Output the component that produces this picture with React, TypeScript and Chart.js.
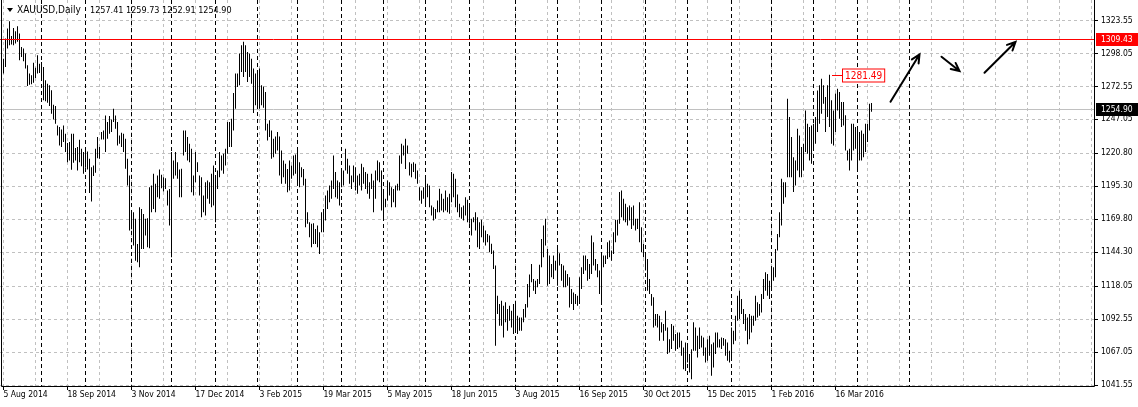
import React, { useEffect, useRef } from "react";
import { Chart, registerables } from "chart.js";

Chart.register(...registerables);

// ---------------- data ----------------
const symbolTitle = "XAUUSD,Daily";
const lastOHLC = [1257.41, 1259.73, 1252.91, 1254.9];

const barHigh = [
  1294.0, 1309.6, 1317.3, 1323.0, 1311.6, 1317.8, 1315.2, 1319.1, 1313.4, 1303.1,
  1301.8, 1297.9, 1288.9, 1282.4, 1281.1, 1290.9, 1287.0, 1296.6, 1290.1, 1291.4,
  1287.6, 1277.2, 1274.6, 1273.3, 1269.5, 1258.3, 1257.3, 1242.3, 1241.0, 1239.2,
  1242.3, 1235.8, 1228.6, 1229.4, 1235.8, 1235.8, 1224.7, 1225.5, 1231.2, 1224.2,
  1221.6, 1222.9, 1222.1, 1216.4, 1209.9, 1211.2, 1224.2, 1233.2, 1225.5, 1237.1,
  1238.4, 1250.0, 1244.9, 1249.5, 1246.9, 1255.2, 1250.0, 1244.9, 1234.5, 1236.6,
  1235.8, 1231.9, 1216.4, 1203.5, 1175.0, 1175.0, 1169.9, 1150.4, 1178.9, 1177.6,
  1173.7, 1169.9, 1170.4, 1194.4, 1195.7, 1204.8, 1197.0, 1203.5, 1208.1, 1204.0,
  1202.2, 1201.4, 1191.9, 1193.1, 1221.6, 1215.1, 1221.6, 1213.8, 1208.1, 1208.7,
  1238.4, 1238.4, 1233.2, 1228.1, 1224.2, 1203.5, 1221.6, 1213.8, 1203.5, 1202.2,
  1188.0, 1198.3, 1199.6, 1198.3, 1204.8, 1211.2, 1201.4, 1207.4, 1221.6, 1219.0,
  1220.3, 1224.2, 1244.9, 1244.9, 1247.5, 1267.4, 1282.4, 1282.4, 1297.9, 1304.4,
  1307.0, 1304.4, 1299.2, 1297.9, 1294.0, 1286.3, 1282.4, 1284.9, 1286.3, 1273.3,
  1272.5, 1268.1, 1243.6, 1246.2, 1238.4, 1231.9, 1233.7, 1237.1, 1233.7, 1222.9,
  1215.1, 1212.5, 1208.6, 1215.1, 1211.2, 1219.0, 1219.8, 1225.5, 1213.8, 1209.9,
  1208.6, 1200.9, 1175.0, 1167.3, 1166.0, 1166.5, 1162.1, 1164.7, 1159.5, 1175.0,
  1177.6, 1188.0, 1191.8, 1195.7, 1199.6, 1219.0, 1206.1, 1199.6, 1198.3, 1207.4,
  1207.4, 1224.2, 1216.4, 1211.2, 1203.5, 1211.2, 1209.9, 1203.5, 1204.8, 1212.5,
  1209.9, 1206.1, 1204.8, 1198.3, 1204.8, 1199.6, 1207.4, 1215.1, 1213.8, 1207.4,
  1193.1, 1185.4, 1199.6, 1198.3, 1194.4, 1193.1, 1195.7, 1197.0, 1219.0, 1228.1,
  1226.8, 1231.9, 1226.8, 1213.8, 1212.5, 1213.8, 1212.5, 1207.4, 1194.4, 1191.8,
  1194.4, 1203.5, 1197.0, 1195.7, 1180.2, 1178.9, 1177.6, 1184.1, 1193.2, 1189.3,
  1185.4, 1191.9, 1186.7, 1189.3, 1206.1, 1204.8, 1200.9, 1188.8, 1181.5, 1178.9,
  1180.2, 1186.7, 1184.6, 1180.2, 1169.9, 1171.2, 1175.0, 1171.2, 1167.3, 1169.1,
  1164.7, 1160.8, 1158.2, 1156.9, 1150.5, 1145.3, 1133.7, 1110.4, 1103.9, 1106.5,
  1102.6, 1105.2, 1100.0, 1102.6, 1098.7, 1103.9, 1103.9, 1094.8, 1093.5, 1093.5,
  1100.0, 1103.9, 1119.4, 1126.7, 1135.0, 1123.3, 1122.0, 1123.3, 1134.4, 1154.3,
  1164.7, 1169.9, 1146.6, 1141.4, 1135.0, 1141.4, 1137.5, 1147.9, 1143.2, 1135.0,
  1133.7, 1129.8, 1127.2, 1124.6, 1115.5, 1112.9, 1111.7, 1110.4, 1124.6, 1132.4,
  1141.4, 1141.4, 1138.8, 1135.0, 1156.9, 1151.8, 1138.8, 1135.0, 1129.8, 1141.4,
  1141.4, 1141.4, 1151.8, 1153.1, 1145.3, 1159.5, 1169.1, 1169.1, 1190.6, 1191.9,
  1185.4, 1181.5, 1178.9, 1180.2, 1178.9, 1180.2, 1169.9, 1169.9, 1182.8, 1163.4,
  1150.5, 1144.0, 1138.8, 1123.3, 1111.7, 1109.1, 1096.1, 1096.1, 1094.8, 1089.7,
  1088.4, 1098.7, 1085.8, 1076.7, 1088.4, 1087.1, 1080.6, 1081.9, 1081.9, 1075.4,
  1070.3, 1074.1, 1071.5, 1065.1, 1068.9, 1089.7, 1085.8, 1079.3, 1085.8, 1079.3,
  1078.0, 1070.3, 1076.7, 1079.3, 1072.8, 1074.1, 1081.9, 1081.9, 1076.7, 1078.0,
  1077.5, 1076.7, 1074.1, 1067.7, 1085.8, 1083.2, 1094.8, 1110.4, 1114.2, 1107.8,
  1100.0, 1096.1, 1093.5, 1096.1, 1094.8, 1094.8, 1110.4, 1105.2, 1103.9, 1111.7,
  1123.3, 1128.5, 1127.2, 1122.0, 1132.3, 1132.3, 1146.6, 1158.2, 1175.0, 1200.9,
  1198.3, 1198.3, 1263.0, 1248.8, 1233.2, 1217.7, 1215.1, 1239.7, 1234.5, 1225.5,
  1228.1, 1253.9, 1243.6, 1241.0, 1242.3, 1243.6, 1248.8, 1269.4, 1273.3, 1278.5,
  1273.3, 1264.3, 1273.3, 1281.49, 1261.7, 1253.9, 1266.9, 1270.7, 1268.2, 1260.4,
  1260.4, 1250.1, 1222.9, 1224.2, 1243.6, 1243.6, 1241.0, 1239.7, 1237.1, 1238.4,
  1235.8, 1243.6, 1243.6, 1259.1, 1259.73,
];

const barLow = [
  1282.4, 1287.6, 1301.8, 1304.4, 1304.9, 1304.4, 1305.7, 1307.0, 1292.7, 1295.3,
  1292.0, 1286.3, 1272.8, 1273.8, 1274.1, 1275.4, 1279.0, 1282.4, 1282.9, 1277.2,
  1261.7, 1260.9, 1259.9, 1257.3, 1251.3, 1246.9, 1243.6, 1234.5, 1226.8, 1225.5,
  1229.4, 1221.6, 1213.8, 1215.1, 1207.9, 1213.3, 1215.1, 1207.4, 1213.8, 1210.7,
  1204.8, 1209.4, 1208.1, 1190.0, 1183.3, 1203.0, 1205.6, 1216.9, 1216.4, 1231.4,
  1231.4, 1221.6, 1231.9, 1235.8, 1237.1, 1244.9, 1239.7, 1226.8, 1228.1, 1225.5,
  1221.6, 1208.7, 1195.7, 1160.8, 1162.1, 1149.2, 1137.5, 1136.2, 1132.3, 1146.6,
  1146.6, 1156.9, 1147.9, 1147.1, 1175.0, 1177.6, 1175.0, 1186.7, 1185.4, 1193.6,
  1191.1, 1193.1, 1180.2, 1164.7, 1140.1, 1200.9, 1203.5, 1200.9, 1186.7, 1186.7,
  1219.0, 1221.6, 1215.1, 1213.8, 1190.5, 1188.0, 1198.3, 1206.1, 1188.0, 1171.1,
  1175.0, 1172.4, 1185.4, 1181.5, 1178.9, 1180.2, 1167.3, 1193.1, 1202.2, 1207.4,
  1204.8, 1211.2, 1220.3, 1225.5, 1225.5, 1238.4, 1255.2, 1272.0, 1273.3, 1283.7,
  1279.8, 1283.7, 1275.9, 1279.8, 1274.6, 1251.9, 1257.8, 1256.5, 1255.2, 1257.8,
  1256.0, 1238.4, 1230.6, 1233.2, 1216.4, 1217.7, 1220.3, 1222.9, 1203.5, 1197.0,
  1202.2, 1197.0, 1190.5, 1191.8, 1200.9, 1203.5, 1204.8, 1195.7, 1194.4, 1202.2,
  1195.7, 1163.4, 1166.0, 1155.6, 1147.9, 1150.4, 1150.4, 1147.9, 1142.7, 1159.5,
  1159.5, 1168.6, 1177.6, 1182.8, 1185.4, 1193.1, 1186.7, 1185.4, 1180.2, 1194.4,
  1195.7, 1207.4, 1204.8, 1197.0, 1193.1, 1198.3, 1191.8, 1189.3, 1195.7, 1191.8,
  1197.0, 1193.1, 1189.3, 1185.4, 1193.1, 1175.0, 1185.4, 1199.6, 1198.3, 1176.3,
  1168.6, 1178.9, 1184.1, 1188.0, 1178.9, 1182.8, 1178.9, 1191.8, 1191.8, 1212.5,
  1219.0, 1208.6, 1220.3, 1203.5, 1202.2, 1206.1, 1200.9, 1197.0, 1184.1, 1181.5,
  1185.4, 1181.5, 1186.7, 1178.9, 1172.4, 1168.6, 1169.9, 1175.0, 1175.0, 1176.3,
  1175.0, 1176.3, 1175.0, 1173.8, 1182.8, 1186.7, 1178.9, 1175.0, 1171.2, 1169.9,
  1168.6, 1172.5, 1167.3, 1166.0, 1157.0, 1167.3, 1160.8, 1147.9, 1146.6, 1155.6,
  1151.8, 1149.2, 1151.8, 1144.0, 1142.7, 1131.1, 1071.6, 1096.1, 1087.1, 1087.1,
  1078.0, 1089.7, 1083.2, 1091.0, 1085.8, 1080.6, 1081.9, 1080.6, 1083.2, 1083.2,
  1089.7, 1093.5, 1101.3, 1109.1, 1120.7, 1114.2, 1111.7, 1116.8, 1119.4, 1132.4,
  1140.1, 1149.2, 1118.1, 1119.4, 1124.6, 1123.3, 1129.8, 1118.1, 1133.7, 1122.0,
  1116.8, 1116.8, 1118.1, 1101.3, 1103.9, 1099.3, 1103.9, 1102.6, 1103.9, 1115.5,
  1127.2, 1129.8, 1122.0, 1123.3, 1127.2, 1133.7, 1129.8, 1124.6, 1111.7, 1105.2,
  1132.4, 1135.0, 1138.8, 1140.1, 1137.5, 1142.7, 1151.8, 1156.9, 1166.0, 1171.2,
  1168.6, 1167.3, 1164.7, 1168.6, 1162.1, 1164.7, 1160.8, 1162.1, 1151.8, 1144.0,
  1140.1, 1129.8, 1114.2, 1111.7, 1102.6, 1085.8, 1087.1, 1085.8, 1075.4, 1081.9,
  1075.4, 1083.2, 1065.1, 1066.4, 1069.0, 1075.4, 1067.7, 1069.0, 1070.3, 1063.8,
  1053.4, 1052.1, 1058.6, 1050.8, 1045.7, 1067.7, 1067.7, 1062.5, 1069.0, 1070.3,
  1063.8, 1058.6, 1059.9, 1063.8, 1048.3, 1054.7, 1065.1, 1070.3, 1070.3, 1069.0,
  1071.5, 1063.8, 1059.9, 1058.6, 1061.2, 1072.8, 1075.4, 1090.9, 1092.2, 1096.1,
  1088.4, 1083.2, 1072.8, 1076.7, 1081.9, 1087.1, 1090.9, 1093.5, 1094.8, 1097.4,
  1107.8, 1114.2, 1110.4, 1107.8, 1115.5, 1122.0, 1124.6, 1145.3, 1155.6, 1164.7,
  1181.5, 1186.7, 1202.2, 1202.2, 1202.2, 1190.6, 1195.7, 1207.4, 1202.2, 1202.2,
  1207.4, 1221.6, 1220.3, 1215.1, 1212.5, 1225.5, 1228.1, 1237.1, 1243.6, 1251.3,
  1259.1, 1237.1, 1248.8, 1241.0, 1228.1, 1226.8, 1237.1, 1253.9, 1247.5, 1241.0,
  1242.3, 1222.9, 1215.1, 1207.4, 1215.1, 1222.9, 1224.2, 1208.7, 1215.1, 1215.1,
  1217.7, 1221.6, 1229.4, 1238.4, 1252.91,
];

// date labels every 32 bars, starting at bar 0
const dateLabels = [
  "5 Aug 2014", "18 Sep 2014", "3 Nov 2014", "17 Dec 2014", "3 Feb 2015",
  "19 Mar 2015", "5 May 2015", "18 Jun 2015", "3 Aug 2015", "16 Sep 2015",
  "30 Oct 2015", "15 Dec 2015", "1 Feb 2016", "16 Mar 2016",
];
const labelStep = 32;
const gridStep = 16;
const lastSlot = 544;

const priceTicks = [
  1323.55, 1298.05, 1272.55, 1247.05, 1220.8, 1195.3, 1169.8, 1144.3, 1118.05,
  1092.55, 1067.05, 1041.55,
];

// month separators (bar index of first bar of each month)
const separators = [
  19, 41, 64, 84, 106, 127, 147, 169, 190, 211, 233, 256, 277, 299, 321, 342,
  364, 384, 405, 427, 453,
];

const redLevel = 1309.43;
const bidPrice = 1254.9;
const highMarkIndex = 413;
const highMarkPrice = 1281.49;

// arrows: from [index, price] to [index, price]
const arrowsFrom = [
  [443.5, 1260.6],
  [469, 1295.5],
  [490.5, 1283.1],
];
const arrowsTo = [
  [458, 1297.2],
  [478, 1284.4],
  [506, 1306.9],
];

const FONT = '"DejaVu Sans Condensed", "DejaVu Sans", sans-serif';
const FONT_SIZE = 8.5;

const overlay = {
  id: "mt4overlay",
  beforeDatasetsDraw(chart: any) {
    const { ctx, chartArea: a, scales } = chart;
    const x = scales.x;
    const y = scales.y;
    ctx.save();
    ctx.lineWidth = 1;
    ctx.strokeStyle = "#c0c0c0";
    ctx.setLineDash([3, 3]);
    for (const v of priceTicks) {
      const py = Math.round(y.getPixelForValue(v)) + 0.5;
      ctx.beginPath();
      ctx.moveTo(a.left, py);
      ctx.lineTo(a.right, py);
      ctx.stroke();
    }
    for (let i = 0; i <= lastSlot; i += gridStep) {
      const px = Math.floor(x.getPixelForValue(i)) + 0.5;
      ctx.beginPath();
      ctx.moveTo(px, a.top);
      ctx.lineTo(px, a.bottom);
      ctx.stroke();
    }
    ctx.strokeStyle = "#000";
    ctx.setLineDash([4, 3]);
    for (const s of separators) {
      const px = Math.floor(x.getPixelForValue(s)) + 0.5;
      ctx.beginPath();
      ctx.moveTo(px, a.top);
      ctx.lineTo(px, a.bottom);
      ctx.stroke();
    }
    ctx.setLineDash([]);
    ctx.strokeStyle = "#c0c0c0";
    const by = Math.round(y.getPixelForValue(bidPrice)) + 0.5;
    ctx.beginPath();
    ctx.moveTo(a.left, by);
    ctx.lineTo(a.right, by);
    ctx.stroke();
    ctx.restore();
  },
  afterDatasetsDraw(chart: any) {
    const { ctx, chartArea: a, scales } = chart;
    const x = scales.x;
    const y = scales.y;
    ctx.save();
    ctx.lineWidth = 1;
    ctx.setLineDash([]);
    ctx.strokeStyle = "#ff0000";
    const ry = Math.round(y.getPixelForValue(redLevel)) + 0.5;
    ctx.beginPath();
    ctx.moveTo(a.left, ry);
    ctx.lineTo(a.right, ry);
    ctx.stroke();

    // frame
    ctx.strokeStyle = "#000";
    ctx.beginPath();
    ctx.moveTo(a.left + 1.5, a.top);
    ctx.lineTo(a.left + 1.5, a.bottom + 0.5);
    ctx.lineTo(a.right + 0.5, a.bottom + 0.5);
    ctx.lineTo(a.right + 0.5, a.top);
    ctx.stroke();
    for (const v of priceTicks) {
      const py = Math.round(y.getPixelForValue(v)) + 0.5;
      ctx.beginPath();
      ctx.moveTo(a.right, py);
      ctx.lineTo(a.right + 4, py);
      ctx.stroke();
    }
    for (let k = 0; k < dateLabels.length; k++) {
      const px = Math.floor(x.getPixelForValue(k * labelStep)) + 0.5;
      ctx.beginPath();
      ctx.moveTo(px, a.bottom);
      ctx.lineTo(px, a.bottom + 4);
      ctx.stroke();
    }

    // arrows
    ctx.strokeStyle = "#000";
    ctx.lineWidth = 2;
    ctx.lineCap = "round";
    for (let k = 0; k < arrowsFrom.length; k++) {
      const x0 = x.getPixelForValue(arrowsFrom[k][0]);
      const y0 = y.getPixelForValue(arrowsFrom[k][1]);
      const x1 = x.getPixelForValue(arrowsTo[k][0]);
      const y1 = y.getPixelForValue(arrowsTo[k][1]);
      ctx.beginPath();
      ctx.moveTo(x0, y0);
      ctx.lineTo(x1, y1);
      const ang = Math.atan2(y1 - y0, x1 - x0);
      const hl = 9;
      const spread = 0.45;
      ctx.moveTo(x1 - hl * Math.cos(ang - spread), y1 - hl * Math.sin(ang - spread));
      ctx.lineTo(x1, y1);
      ctx.lineTo(x1 - hl * Math.cos(ang + spread), y1 - hl * Math.sin(ang + spread));
      ctx.stroke();
    }

    // high price mark
    ctx.lineWidth = 1;
    ctx.lineCap = "butt";
    ctx.strokeStyle = "#ff0000";
    const hx = Math.floor(x.getPixelForValue(highMarkIndex));
    const hy = Math.round(y.getPixelForValue(highMarkPrice)) + 0.5;
    ctx.beginPath();
    ctx.moveTo(hx + 3, hy);
    ctx.lineTo(hx + 13, hy);
    ctx.stroke();
    ctx.font = `10px ${FONT}`;
    const txt = highMarkPrice.toFixed(2);
    const tw = ctx.measureText(txt).width;
    ctx.fillStyle = "#fff";
    ctx.fillRect(hx + 13, hy - 7, tw + 6, 13);
    ctx.strokeRect(hx + 13.5, hy - 6.5, tw + 5, 13);
    ctx.fillStyle = "#ff0000";
    ctx.textBaseline = "middle";
    ctx.textAlign = "left";
    ctx.fillText(txt, hx + 16, hy + 0.5);
    ctx.restore();
  },
  afterDraw(chart: any) {
    const { ctx, chartArea: a, scales } = chart;
    const y = scales.y;
    ctx.save();
    ctx.fillStyle = "#000";
    ctx.beginPath();
    ctx.moveTo(7, 8);
    ctx.lineTo(13, 8);
    ctx.lineTo(10, 12);
    ctx.closePath();
    ctx.fill();
    ctx.textBaseline = "middle";
    ctx.textAlign = "left";
    ctx.font = `10px ${FONT}`;
    ctx.fillText(symbolTitle, 17, 10.5);
    ctx.font = `9px ${FONT}`;
    ctx.fillText(lastOHLC.map((v) => v.toFixed(2)).join(" "), 90, 10.5);

    ctx.font = `${FONT_SIZE}px ${FONT}`;
    const tag = (price: number, bg: string) => {
      const py = Math.round(y.getPixelForValue(price));
      ctx.fillStyle = bg;
      ctx.fillRect(a.right + 2, py - 6, chart.width - a.right - 2, 13);
      ctx.fillStyle = "#fff";
      ctx.fillText(price.toFixed(2), a.right + 7, py + 0.5);
    };
    tag(redLevel, "#ff0000");
    tag(bidPrice, "#000");
    ctx.restore();
  },
};

export default function App() {
  const ref = useRef<HTMLCanvasElement>(null);
  useEffect(() => {
    document.body.style.margin = "0";
    const data = barHigh.map((h, i) => ({ x: i, y: [barLow[i], h] }));
    const chart = new Chart(ref.current as HTMLCanvasElement, {
      type: "bar",
      data: {
        datasets: [
          {
            data: data as any,
            backgroundColor: "#000",
            borderWidth: 0,
            barThickness: 1,
            minBarLength: 1,
            inflateAmount: 0,
          } as any,
        ],
      },
      options: {
        animation: false,
        responsive: false,
        maintainAspectRatio: false,
        layout: { padding: 0 },
        plugins: { legend: { display: false }, tooltip: { enabled: false } },
        scales: {
          x: {
            type: "linear",
            position: "bottom",
            offset: false,
            min: -1.75,
            max: 545.25,
            grid: { display: false, drawTicks: false, offset: false },
            border: { display: false },
            ticks: {
              autoSkip: false,
              maxRotation: 0,
              minRotation: 0,
              align: "start",
              padding: 4,
              color: "#000",
              font: { family: FONT, size: FONT_SIZE },
              callback: (v: any) => {
                const k = Math.round(Number(v) / labelStep);
                return Number(v) % labelStep === 0 && dateLabels[k] ? dateLabels[k] : "";
              },
            },
            afterBuildTicks: (s: any) => {
              s.ticks = dateLabels.map((_, k) => ({ value: k * labelStep }));
            },
            afterFit: (s: any) => {
              s.height = 21;
              s.paddingLeft = 0;
              s.paddingRight = 0;
            },
          },
          y: {
            type: "linear",
            position: "right",
            min: 1040.39,
            max: 1339.43,
            grid: { display: false, drawTicks: false },
            border: { display: false },
            ticks: {
              padding: 7,
              color: "#000",
              font: { family: FONT, size: FONT_SIZE },
              callback: (v: any) => Number(v).toFixed(2),
            },
            afterBuildTicks: (s: any) => {
              s.ticks = priceTicks.map((v) => ({ value: v }));
            },
            afterFit: (s: any) => {
              s.width = 44;
              s.paddingTop = 0;
              s.paddingBottom = 0;
            },
          },
        },
      },
      plugins: [overlay],
    });
    return () => chart.destroy();
  }, []);
  return (
    <div style={{ position: "absolute", left: 0, top: 0, width: 1138, height: 407, background: "#fff" }}>
      <canvas ref={ref} width={1138} height={407} style={{ display: "block" }} />
    </div>
  );
}
